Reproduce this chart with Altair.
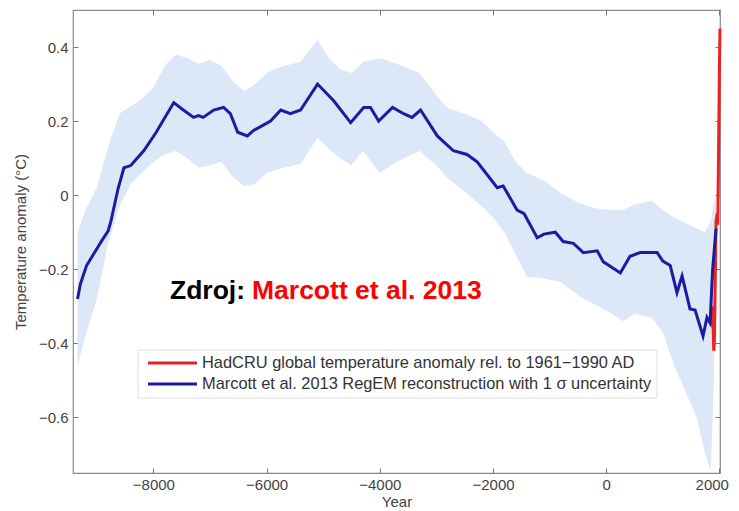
import altair as alt
import pandas as pd

# ---------------- data ----------------
recon_years = [-9340, -9290, -9180, -9020, -8900, -8800, -8750, -8620, -8520, -8400,
               -8170, -7950, -7640, -7470, -7290, -7200, -7120, -6935, -6760, -6640,
               -6510, -6340, -6230, -6050, -5930, -5750, -5580, -5400, -5100, -4815,
               -4515, -4285, -4165, -4020, -3775, -3580, -3430, -3280, -2985, -2700,
               -2460, -2280, -1925, -1820, -1575, -1450, -1220, -1100, -900, -760,
               -580, -405, -160, -50, 250, 420, 600, 900, 1000, 1130,
               1250, 1340, 1480, 1570, 1710, 1780, 1835, 1880, 1940]
recon_temp = [-0.28, -0.24, -0.19, -0.15, -0.12, -0.097, -0.07, 0.02, 0.074, 0.08,
              0.12, 0.17, 0.25, 0.23, 0.21, 0.215, 0.21, 0.23, 0.237, 0.22,
              0.17, 0.16, 0.175, 0.19, 0.20, 0.23, 0.22, 0.23, 0.30, 0.255,
              0.196, 0.237, 0.237, 0.20, 0.237, 0.22, 0.21, 0.23, 0.16, 0.12,
              0.11, 0.09, 0.02, 0.025, -0.04, -0.05, -0.115, -0.105, -0.10, -0.125,
              -0.13, -0.155, -0.15, -0.18, -0.21, -0.165, -0.155, -0.155, -0.178, -0.19,
              -0.263, -0.218, -0.307, -0.31, -0.38, -0.33, -0.345, -0.20, -0.09]

band_years = [-9340, -9200, -9000, -8800, -8600, -8400, -8200, -8000, -7800, -7600,
              -7400, -7200, -7000, -6800, -6600, -6400, -6200, -6000, -5800, -5400,
              -5100, -4900, -4700, -4500, -4300, -4000, -3700, -3300, -3000, -2800,
              -2500, -2200, -2000, -1800, -1600, -1400, -1100, -800, -500, -200,
              100, 300, 500, 800, 1000, 1200, 1400, 1600, 1750, 1850, 1900, 1940]
band_upper = [-0.10, -0.04, 0.02, 0.13, 0.22, 0.24, 0.26, 0.29, 0.35, 0.38,
              0.37, 0.355, 0.365, 0.35, 0.31, 0.28, 0.30, 0.33, 0.345, 0.36,
              0.42, 0.37, 0.34, 0.33, 0.36, 0.37, 0.355, 0.33, 0.27, 0.235,
              0.22, 0.20, 0.17, 0.145, 0.09, 0.06, 0.04, 0.005, -0.02, -0.035,
              -0.04, -0.04, -0.025, -0.015, -0.04, -0.06, -0.075, -0.09, -0.10, -0.07,
              -0.02, 0.0]
band_lower = [-0.46, -0.38, -0.28, -0.13, -0.03, 0.03, 0.06, 0.09, 0.11, 0.12,
              0.10, 0.075, 0.08, 0.09, 0.05, 0.025, 0.03, 0.06, 0.07, 0.085,
              0.155, 0.125, 0.10, 0.08, 0.12, 0.06, 0.09, 0.12, 0.08, 0.045,
              0.01, -0.03, -0.06, -0.10, -0.16, -0.22, -0.225, -0.235, -0.27, -0.295,
              -0.32, -0.34, -0.32, -0.33, -0.37, -0.46, -0.53, -0.60, -0.70, -0.745,
              -0.50, -0.20]

hadcru_years = [1850, 1880, 1900, 1910, 1920, 1940, 1960, 1970, 1980, 1990, 2000, 2010]
hadcru_temp = [-0.35, -0.30, -0.42, -0.40, -0.30, -0.07, -0.05, -0.08, 0.05, 0.20, 0.35, 0.45]

x_ticks = [-8000, -6000, -4000, -2000, 0, 2000]
y_ticks = [-0.6, -0.4, -0.2, 0, 0.2, 0.4]

legend_labels = ["HadCRU global temperature anomaly rel. to 1961\u22121990 AD",
                 "Marcott et al. 2013 RegEM reconstruction with 1 \u03c3 uncertainty"]
source_prefix = ["Zdroj:"]
source_name = ["Marcott et al. 2013"]

# ---------------- frames ----------------
recon = pd.DataFrame({"year": recon_years, "temp": recon_temp})
band = pd.DataFrame({"year": band_years, "upper": band_upper, "lower": band_lower})
had = pd.DataFrame({"year": hadcru_years, "temp": hadcru_temp})

FONT = "Liberation Sans"
xs = alt.Scale(domain=[-9420, 2010], nice=False, zero=False)
ys = alt.Scale(domain=[-0.75, 0.5], nice=False, zero=False)

common = dict(domain=False, grid=False, tickSize=5, offset=-5, tickColor="#777",
              tickWidth=1, labelFont=FONT, labelFontSize=15, labelColor="#444",
              titleFont=FONT, titleFontSize=15, titleColor="#444",
              titleFontWeight="normal")

x_bottom = alt.Axis(orient="bottom", values=x_ticks, format="d", title="Year",
                    labelPadding=4, titlePadding=2, labelFlush=5,
                    labelFlushOffset=9, labelBound=False, **common)
y_left = alt.Axis(orient="left", values=y_ticks, format="~g",
                  title="Temperature anomaly (\u00b0C)", labelPadding=5,
                  titlePadding=10, labelFlush=False, **common)
x_top = alt.Axis(orient="top", values=x_ticks, labels=False, title=None, **common)
y_right = alt.Axis(orient="right", values=y_ticks, labels=False, title=None, **common)

band_layer = alt.Chart(band).mark_area(color="#dce8f8", opacity=1).encode(
    x=alt.X("year:Q", scale=xs, axis=x_bottom),
    y=alt.Y("upper:Q", scale=ys, axis=y_left),
    y2="lower:Q",
)

red_layer = alt.Chart(had).mark_line(color="#f0201c", strokeWidth=3).encode(
    x=alt.X("year:Q", scale=xs, axis=None),
    y=alt.Y("temp:Q", scale=ys, axis=None),
)

blue_layer = alt.Chart(recon).mark_line(color="#1c1ca0", strokeWidth=3).encode(
    x=alt.X("year:Q", scale=xs, axis=x_top),
    y=alt.Y("temp:Q", scale=ys, axis=y_right),
)

one = pd.DataFrame({"a": [0]})

txt_black = alt.Chart(pd.DataFrame({"t": source_prefix})).mark_text(
    align="left", baseline="alphabetic", font=FONT, fontWeight="bold",
    fontSize=26.5, color="black").encode(x=alt.value(97), y=alt.value(289), text="t:N")
txt_red = alt.Chart(pd.DataFrame({"t": source_name})).mark_text(
    align="left", baseline="alphabetic", font=FONT, fontWeight="bold",
    fontSize=26.5, color="#ff0000").encode(x=alt.value(179), y=alt.value(289), text="t:N")

leg_box = alt.Chart(one).mark_rect(fill="white", stroke="#dcdcdc", strokeWidth=1).encode(
    x=alt.value(65), x2=alt.value(584), y=alt.value(340), y2=alt.value(388))
leg_red = alt.Chart(one).mark_rule(color="#e0202a", strokeWidth=3).encode(
    x=alt.value(75), x2=alt.value(124), y=alt.value(353))
leg_blue = alt.Chart(one).mark_rule(color="#1c1ca0", strokeWidth=3).encode(
    x=alt.value(75), x2=alt.value(124), y=alt.value(374))
leg_t1 = alt.Chart(pd.DataFrame({"t": [legend_labels[0]]})).mark_text(
    align="left", baseline="middle", font=FONT, fontSize=16.4, color="#333").encode(
    x=alt.value(129), y=alt.value(353), text="t:N")
leg_t2 = alt.Chart(pd.DataFrame({"t": [legend_labels[1]]})).mark_text(
    align="left", baseline="middle", font=FONT, fontSize=16.4, color="#333").encode(
    x=alt.value(129), y=alt.value(374), text="t:N")

chart = alt.layer(
    band_layer, red_layer, blue_layer, txt_black, txt_red,
    leg_box, leg_red, leg_blue, leg_t1, leg_t2,
).resolve_axis(x="independent", y="independent").properties(
    width=647, height=463,
    autosize=alt.AutoSizeParams(type="none"),
    padding={"left": 65, "top": 2, "right": 11, "bottom": 36},
    background="white",
).configure_view(stroke="#8a8a8a", strokeWidth=1.2)

chart.save("out.html", embed_options={"renderer": "svg", "actions": False})
